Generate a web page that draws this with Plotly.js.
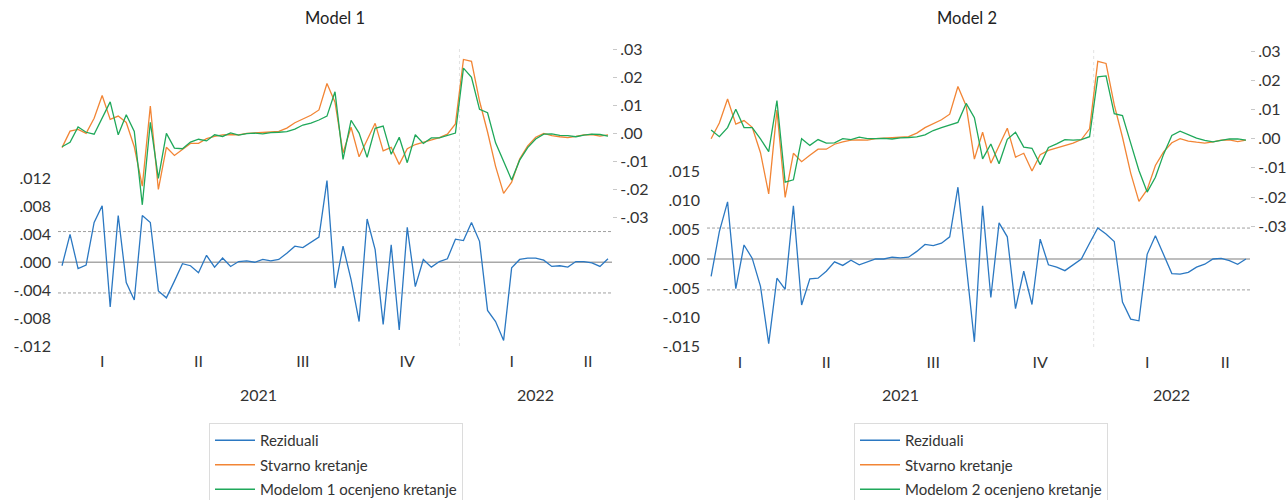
<!DOCTYPE html>
<html><head><meta charset="utf-8">
<script src="https://cdn.plot.ly/plotly-3.0.1.min.js"></script>
<style>html,body{margin:0;padding:0;background:#fff}#chart{width:1288px;height:500px}</style>
</head><body><div id="chart"></div>
<script>
// ---- data (weekly observations, 2021 - 2022) ----
const stvarno = [-0.0051, 0.0008, 0.0014, 0.0000, 0.0054, 0.0136, 0.0050, 0.0062, 0.0039, -0.0048,
 -0.0189, 0.0098, -0.0201, -0.0050, -0.0079, -0.0057, -0.0036, -0.0036, -0.0019, -0.0011,
 -0.0005, -0.0004, -0.0005, 0.0000, 0.0001, 0.0002, 0.0005, 0.0007, 0.0019, 0.0038,
 0.0051, 0.0065, 0.0084, 0.0179, 0.0112, -0.0070, 0.0022, -0.0084, -0.0024, 0.0036,
 -0.0063, -0.0050, -0.0111, -0.0055, -0.0040, -0.0032, -0.0023, -0.0015, -0.0003, 0.0034,
 0.0265, 0.0258, 0.0116, 0.0005, -0.0118, -0.0215, -0.0175, -0.0092, -0.0045, -0.0014,
 0.0000, -0.0008, -0.0012, -0.0015, -0.0011, -0.0005, -0.0004, -0.0010, -0.0005];

const model1Ocenjeno = [-0.0048, -0.0032, 0.0023, 0.0004, -0.0003, 0.0055, 0.0113, -0.0005, 0.0067, 0.0007,
 -0.0256, 0.0040, -0.0161, 0.0000, -0.0053, -0.0055, -0.0031, -0.0021, -0.0027, -0.0005,
 -0.0011, 0.0002, -0.0006, -0.0001, 0.0001, -0.0002, 0.0003, 0.0004, 0.0006, 0.0015,
 0.0030, 0.0037, 0.0048, 0.0062, 0.0149, -0.0093, 0.0047, 0.0001, -0.0086, 0.0018,
 0.0026, -0.0075, -0.0014, -0.0105, -0.0005, -0.0036, -0.0016, -0.0016, -0.0008, 0.0001,
 0.0234, 0.0201, 0.0086, 0.0074, -0.0034, -0.0103, -0.0167, -0.0096, -0.0051, -0.0020,
 -0.0003, -0.0002, -0.0007, -0.0008, -0.0012, -0.0006, -0.0003, -0.0004, -0.0010];

const model1Reziduali = [-0.0005, 0.0040, -0.0009, -0.0004, 0.0057, 0.0081, -0.0064, 0.0067, -0.0029, -0.0054,
 0.0067, 0.0057, -0.0041, -0.0051, -0.0027, -0.0002, -0.0005, -0.0015, 0.0010, -0.0007,
 0.0006, -0.0006, 0.0001, 0.0002, 0.0000, 0.0004, 0.0002, 0.0004, 0.0013, 0.0023,
 0.0021, 0.0028, 0.0036, 0.0117, -0.0037, 0.0023, -0.0025, -0.0085, 0.0062, 0.0018,
 -0.0089, 0.0025, -0.0097, 0.0050, -0.0035, 0.0004, -0.0007, 0.0001, 0.0005, 0.0033,
 0.0031, 0.0057, 0.0030, -0.0069, -0.0085, -0.0112, -0.0008, 0.0004, 0.0006, 0.0006,
 0.0003, -0.0006, -0.0005, -0.0007, 0.0001, 0.0001, -0.0001, -0.0006, 0.0005];

// Model 2 sample starts three observations later
const model2Pocetak = 3;
const model2Ocenjeno = [0.0030, 0.0007, 0.0038, 0.0101, 0.0038, 0.0038, -0.0001, -0.0044, 0.0131, -0.0149,
 -0.0141, 0.0000, -0.0023, -0.0003, -0.0015, -0.0014, 0.0000, -0.0003, 0.0005, 0.0000,
 0.0000, 0.0001, -0.0001, 0.0003, 0.0004, 0.0006, 0.0013, 0.0028, 0.0038, 0.0046,
 0.0056, 0.0121, 0.0072, -0.0069, -0.0018, -0.0086, -0.0002, 0.0022, -0.0029, -0.0033,
 -0.0089, -0.0030, -0.0018, -0.0003, -0.0005, -0.0003, 0.0007, 0.0212, 0.0215, 0.0086,
 0.0079, -0.0015, -0.0109, -0.0183, -0.0132, -0.0053, 0.0011, 0.0026, 0.0015, 0.0002,
 -0.0006, -0.0011, -0.0006, -0.0001, -0.0001, -0.0005];

const model2Reziduali = [-0.0030, 0.0047, 0.0098, -0.0051, 0.0024, 0.0001, -0.0047, -0.0145, -0.0033, -0.0052,
 0.0091, -0.0079, -0.0034, -0.0033, -0.0021, -0.0005, -0.0011, -0.0002, -0.0010, -0.0005,
 0.0000, 0.0000, 0.0003, 0.0002, 0.0003, 0.0013, 0.0025, 0.0023, 0.0027, 0.0038,
 0.0123, -0.0009, -0.0142, 0.0091, -0.0066, 0.0062, 0.0038, -0.0085, -0.0021, -0.0078,
 0.0034, -0.0010, -0.0014, -0.0020, -0.0010, 0.0000, 0.0027, 0.0053, 0.0043, 0.0030,
 -0.0074, -0.0103, -0.0106, 0.0008, 0.0040, 0.0008, -0.0025, -0.0026, -0.0023, -0.0014,
 -0.0009, 0.0000, 0.0001, -0.0003, -0.0009, 0.0000];

// standard error bands of the residuals
const model1SE = 0.0044;
const model2SE = 0.0053;

// calendar: quarter labels and the index of each quarter's first observation
const kvartali = ['I', 'II', 'III', 'IV', 'I', 'II'];
const kvartalPocetak = [0, 11, 24, 37, 50, 63];
const godine = ['2021', '2022'];
const godinaPocetak = [0, 50];

// axis ticks
const rezTick1 = [-0.012, -0.008, -0.004, 0, 0.004, 0.008, 0.012];
const rezTick2 = [-0.015, -0.010, -0.005, 0, 0.005, 0.010, 0.015];
const nivoTick = [-0.03, -0.02, -0.01, 0, 0.01, 0.02, 0.03];

const naslovi = ['Model 1', 'Model 2'];
const imena = ['Reziduali', 'Stvarno kretanje', 'Modelom 1 ocenjeno kretanje', 'Modelom 2 ocenjeno kretanje'];

// ---- build ----
const N = stvarno.length;
const fmt = (v, d) => v.toFixed(d).replace('0.', '.');
const xAll = stvarno.map((_, i) => i);
const x2 = model2Ocenjeno.map((_, i) => i + model2Pocetak);
const stvarno2 = stvarno.slice(model2Pocetak);

function mids(lo, hi, starts) {
  const out = [];
  for (let k = 0; k < starts.length; k++) {
    const a = Math.max(lo, starts[k] - 0.5);
    const b = Math.min(hi, (k + 1 < starts.length ? starts[k + 1] : N) - 0.5);
    out.push((a + b) / 2);
  }
  return out;
}
const r1 = [-0.5, N - 0.5];
const r2 = [model2Pocetak - 0.5, N - 0.5];

const C_BLUE = '#2b78c2', C_OR = '#f28535', C_GR = '#1fa85a';
const FONT = 'Lato, "Open Sans", sans-serif';
const TXT = '#333333';

const data = [
  {x: xAll, y: model1Reziduali, type: 'scatter', mode: 'lines', name: imena[0], xaxis: 'x', yaxis: 'y',
   line: {color: C_BLUE, width: 1.3}, legend: 'legend', legendgroup: 'a1'},
  {x: xAll, y: stvarno, type: 'scatter', mode: 'lines', name: imena[1], xaxis: 'x', yaxis: 'y2',
   line: {color: C_OR, width: 1.3}, legend: 'legend', legendgroup: 'b1'},
  {x: xAll, y: model1Ocenjeno, type: 'scatter', mode: 'lines', name: imena[2], xaxis: 'x', yaxis: 'y2',
   line: {color: C_GR, width: 1.3}, legend: 'legend', legendgroup: 'c1'},
  {x: x2, y: model2Reziduali, type: 'scatter', mode: 'lines', name: imena[0], xaxis: 'x2', yaxis: 'y3',
   line: {color: C_BLUE, width: 1.3}, legend: 'legend2', legendgroup: 'a2'},
  {x: x2, y: stvarno2, type: 'scatter', mode: 'lines', name: imena[1], xaxis: 'x2', yaxis: 'y4',
   line: {color: C_OR, width: 1.3}, legend: 'legend2', legendgroup: 'b2'},
  {x: x2, y: model2Ocenjeno, type: 'scatter', mode: 'lines', name: imena[3], xaxis: 'x2', yaxis: 'y4',
   line: {color: C_GR, width: 1.3}, legend: 'legend2', legendgroup: 'c2'}
];

const W = 1288, H = 500;
const px = v => v / W, py = v => 1 - v / H;

const xCommon = {showgrid: false, zeroline: false, showline: false, ticks: '',
  tickfont: {family: FONT, size: 16, color: TXT}, ticklabelstandoff: 4, fixedrange: true};
const yCommon = {showgrid: false, zeroline: false, showline: false, fixedrange: true,
  tickfont: {family: FONT, size: 16, color: TXT}};

const legendCommon = {xanchor: 'left', yanchor: 'top', orientation: 'v',
  bordercolor: '#dcdcdc', borderwidth: 1, bgcolor: '#fff', traceorder: 'grouped', tracegroupgap: 2,
  font: {family: FONT, size: 15, color: TXT}, itemwidth: 40};

const layout = {
  width: W, height: H,
  margin: {l: 0, r: 0, t: 0, b: 0, autoexpand: false},
  paper_bgcolor: '#fff', plot_bgcolor: 'rgba(0,0,0,0)',
  showlegend: true,
  font: {family: FONT, color: TXT},
  xaxis: Object.assign({}, xCommon, {domain: [px(58), px(612)], range: r1, anchor: 'y',
    tickvals: mids(r1[0], r1[1], kvartalPocetak), ticktext: kvartali}),
  xaxis2: Object.assign({}, xCommon, {domain: [px(707), px(1250)], range: r2, anchor: 'y3',
    tickvals: mids(r2[0], r2[1], kvartalPocetak), ticktext: kvartali}),
  yaxis: Object.assign({}, yCommon, {domain: [py(346), py(48)], range: [-0.0120, 0.0307], anchor: 'x',
    tickvals: rezTick1, ticktext: rezTick1.map(v => fmt(v, 3)), ticks: '', ticklabelstandoff: 6}),
  yaxis2: Object.assign({}, yCommon, {overlaying: 'y', side: 'right', anchor: 'x', range: [-0.0762, 0.0306],
    tickvals: nivoTick, ticktext: nivoTick.map(v => fmt(v, 2)), ticks: 'outside', ticklen: 4,
    tickcolor: '#c8c8c8', tickwidth: 1}),
  yaxis3: Object.assign({}, yCommon, {domain: [py(347), py(48)], range: [-0.01509, 0.03617], anchor: 'x2',
    tickvals: rezTick2, ticktext: rezTick2.map(v => fmt(v, 3)), ticks: '', ticklabelstandoff: 6}),
  yaxis4: Object.assign({}, yCommon, {overlaying: 'y3', side: 'right', anchor: 'x2', range: [-0.07141, 0.03109],
    tickvals: nivoTick, ticktext: nivoTick.map(v => fmt(v, 2)), ticks: 'outside', ticklen: 4,
    tickcolor: '#c8c8c8', tickwidth: 1}),
  legend: Object.assign({}, legendCommon, {x: px(209), y: py(423)}),
  legend2: Object.assign({}, legendCommon, {x: px(854), y: py(423)}),
  shapes: [],
  annotations: []
};

// reference lines
[['x', 'y', model1SE], ['x2', 'y3', model2SE]].forEach(([xa, ya, se]) => {
  layout.shapes.push({type: 'line', xref: xa + ' domain', x0: 0, x1: 1, yref: ya, y0: 0, y1: 0,
    line: {color: '#a8a8a8', width: 1.6}, layer: 'below'});
  [se, -se].forEach(v => layout.shapes.push({type: 'line', xref: xa + ' domain', x0: 0, x1: 1, yref: ya,
    y0: v, y1: v, line: {color: '#a0a0a0', width: 1, dash: '3px,2px'}, layer: 'below'}));
  layout.shapes.push({type: 'line', xref: xa, x0: godinaPocetak[1] - 0.5, x1: godinaPocetak[1] - 0.5,
    yref: ya + ' domain', y0: 0, y1: 1, line: {color: '#e2e2e2', width: 1, dash: 'dot'}, layer: 'below'});
});

// titles
[[px(335), naslovi[0]], [px(967), naslovi[1]]].forEach(([x, t]) => layout.annotations.push({
  xref: 'paper', yref: 'paper', x: x, y: py(18), xanchor: 'center', yanchor: 'middle', showarrow: false,
  text: t, font: {family: FONT, size: 16.5, color: '#222222'}}));

// year labels
[['x', r1], ['x2', r2]].forEach(([xa, r]) => {
  mids(r[0], r[1], godinaPocetak).forEach((m, k) => layout.annotations.push({
    xref: xa, yref: 'paper', x: m, y: py(394), xanchor: 'center', yanchor: 'middle', showarrow: false,
    text: godine[k], font: {family: FONT, size: 16, color: TXT}}));
});

Plotly.newPlot('chart', data, layout, {displayModeBar: false, staticPlot: true});
</script>
</body></html>
